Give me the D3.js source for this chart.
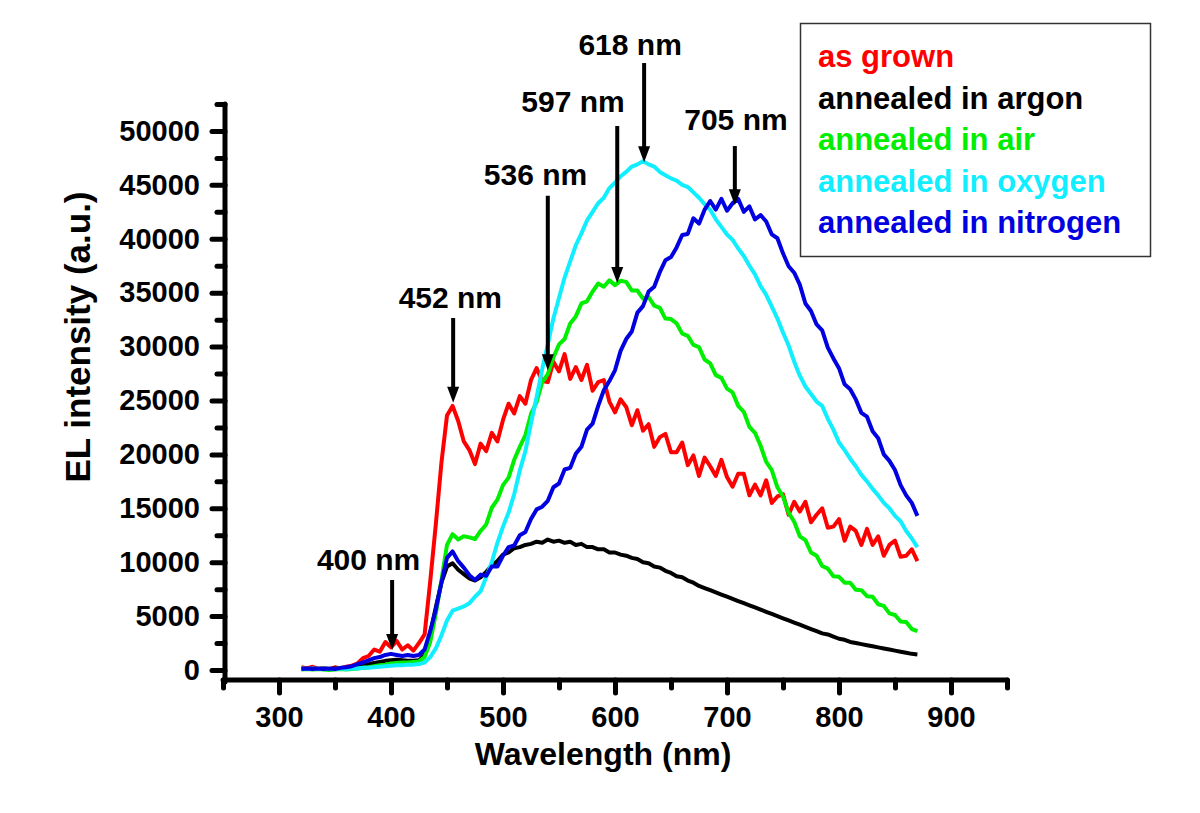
<!DOCTYPE html>
<html>
<head>
<meta charset="utf-8">
<script src="https://cdn.jsdelivr.net/npm/d3@7"></script>
<style>
  body { margin: 0; background: #fff; }
  text { font-family: "Liberation Sans", Arial, sans-serif; font-weight: bold; }
</style>
</head>
<body>
<div id="chart"></div>
<script>
// sampling grid of the spectra (nm)
var wavelength = d3.range(320, 875, 5);

var seriesNames = ['as grown', 'annealed in argon', 'annealed in air', 'annealed in oxygen', 'annealed in nitrogen'];
var colors = ['#ff0000', '#000000', '#00ee00', '#11eeff', '#0000e0'];

var asGrown = [
    250, 150, 300, 100, 200, 50, 250, 150, 300, 400,
    600, 1100, 1300, 1900, 1700, 2600, 2100, 2700, 1900, 2300,
    1800, 2500, 3300, 8200, 13500, 19200, 23600, 24500, 23100, 21200,
    20400, 19100, 21000, 20300, 22000, 21200, 23200, 24700, 23800, 25400,
    24700, 26900, 28000, 26800, 26700, 28600, 27700, 29300, 27000, 28100,
    26900, 28300, 25900, 26700, 26900, 24900, 23900, 25100, 24400, 22700,
    24100, 22200, 22800, 20700, 21600, 21900, 20200, 20200, 21100, 19000,
    19900, 18000, 19700, 18900, 18000, 19500, 17900, 17000, 18200, 18200,
    16200, 17200, 16200, 17600, 15500, 16100, 16300, 14400, 15600, 14700,
    15600, 13700, 14400, 15000, 13200, 13300, 14000, 12000, 13300, 12900,
    11600, 13100, 11600, 12400, 10600, 11600, 12000, 10500, 10600, 11200,
    10100
];
var argon = [
    150, 100, 150, 100, 150, 100, 150, 100, 200, 250,
    350, 450, 550, 650, 750, 850, 900, 950, 900, 850,
    850, 900, 1400, 3400, 5800, 8100, 9600, 9900, 9300, 8900,
    8500, 8300, 8600, 9100, 9700, 10100, 10700, 10900, 11300, 11400,
    11600, 11700, 11900, 11800, 12100, 11900, 12000, 11800, 11900, 11600,
    11700, 11400, 11400, 11200, 11200, 10900, 10900, 10700, 10600, 10400,
    10300, 10000, 9900, 9600, 9500, 9200, 9000, 8700, 8600, 8300,
    8100, 7800, 7600, 7400, 7200, 7000, 6800, 6600, 6400, 6200,
    6000, 5800, 5600, 5400, 5200, 5000, 4800, 4600, 4400, 4200,
    4000, 3800, 3600, 3400, 3300, 3100, 2900, 2800, 2600, 2500,
    2400, 2300, 2200, 2100, 2000, 1900, 1800, 1700, 1600, 1500,
    1450
];
var air = [
    50, 100, 50, 100, 50, 0, 50, 100, 50, 100,
    150, 200, 250, 350, 450, 500, 600, 650, 700, 700,
    750, 800, 1200, 2600, 5200, 8300, 11600, 12600, 12100, 12400,
    12300, 12150, 12900, 13500, 15050, 15800, 17150, 17850, 19500, 20700,
    21800, 23750, 24850, 26700, 27450, 29000, 30200, 30700, 32150, 32800,
    34000, 34200, 35100, 35850, 35550, 36150, 35700, 36100, 36000, 35200,
    35200, 34450, 34600, 33800, 33600, 32600, 32550, 32150, 31200, 31000,
    30150, 29950, 28800, 28450, 27350, 27100, 26100, 25750, 24500, 23950,
    22550, 22000, 20800, 19300, 18550, 16950, 16100, 14600, 13750, 12400,
    12050, 10900, 10600, 9650, 9400, 8700, 8650, 8100, 8100, 7450,
    7400, 6850, 6800, 6100, 5950, 5250, 5100, 4500, 4450, 3800,
    3600
];
var oxygen = [
    150, 100, 150, 100, 150, 100, 100, 150, 100, 150,
    150, 200, 200, 250, 300, 350, 400, 450, 450, 500,
    500, 550, 700, 1200, 2000, 3200, 4600, 5500, 5700, 5900,
    6200, 6800, 7300, 8600, 10000, 11800, 13300, 14600, 16300, 18500,
    20300, 22900, 25300, 27900, 30200, 32600, 34500, 36400, 37900, 39400,
    40500, 41700, 42500, 43300, 43800, 44700, 45200, 45800, 46200, 46700,
    46900, 47200, 46900, 46700, 46200, 45900, 45600, 45400, 45000, 44800,
    44300, 43800, 43200, 42700, 41800, 41100, 40400, 39900, 39100, 38400,
    37500, 36700, 35600, 34800, 33700, 32600, 31300, 30100, 28600, 27300,
    26300, 25600, 24900, 24500, 23300, 22300, 21100, 20400, 19600, 18900,
    18100, 17500, 16800, 16200, 15500, 15000, 14300, 13800, 12900, 12200,
    11400
];
var nitrogen = [
    100, 150, 100, 150, 100, 150, 100, 200, 250, 350,
    550, 700, 900, 1100, 1200, 1400, 1500, 1400, 1300, 1400,
    1300, 1400, 1900, 3600, 5600, 8100, 10400, 11000, 10100, 9500,
    8800, 8350, 8850, 8750, 9600, 9600, 10600, 11400, 11550, 12500,
    12800, 14000, 14900, 15150, 15700, 16950, 17300, 18600, 18750, 20050,
    20700, 22300, 22850, 24500, 25950, 26800, 27800, 29600, 30700, 31400,
    33150, 33750, 35100, 35550, 36900, 38000, 38300, 39200, 40350, 40450,
    41900, 41400, 42700, 43500, 42700, 43700, 42600, 43300, 43700, 42500,
    43000, 41800, 42200, 41600, 40400, 40050, 38650, 37450, 36850, 35750,
    34000, 33300, 32050, 31500, 29900, 28900, 28000, 26500, 26050, 25100,
    23850, 23500, 22150, 21500, 20000, 19400, 18550, 17150, 16200, 15500,
    14300
];

var xTicks = [300, 400, 500, 600, 700, 800, 900];
var yTicks = [0, 5000, 10000, 15000, 20000, 25000, 30000, 35000, 40000, 45000, 50000];

// peak annotations: arrow x (nm), tail/tip (a.u.), label anchor
var peakLabels = ['400 nm', '452 nm', '536 nm', '597 nm', '618 nm', '705 nm'];
var arrowNm = [401, 455.5, 540, 602, 626, 707];
var arrowTail = [8350, 32650, 44000, 50450, 56300, 48600];
var arrowTip = [1850, 24800, 27800, 35900, 47100, 43100];
var labelNm = [380, 453, 529, 562.5, 613.5, 708];
var labelVal = [9300, 33600, 45000, 51750, 57050, 50100];

var allSeries = [asGrown, argon, air, oxygen, nitrogen];

var svg = d3.select('#chart').append('svg')
    .attr('width', 1200)
    .attr('height', 813);

var x = d3.scaleLinear().domain([250, 950]).range([223, 1007]);
var y = d3.scaleLinear().domain([-1000, 52500]).range([680.8, 104]);

// minor ticks first (shorter), then major ticks with labels
var xMinor = d3.range(250, 951, 100);
var yMinor = d3.range(2500, 52501, 5000);

svg.append('g')
    .attr('transform', 'translate(0,680)')
    .call(d3.axisBottom(x).tickValues(xMinor).tickSize(8).tickSizeOuter(0).tickFormat(''))
    .call(function(g) { g.select('.domain').remove(); });

svg.append('g')
    .attr('transform', 'translate(225,0)')
    .call(d3.axisLeft(y).tickValues(yMinor).tickSize(8).tickSizeOuter(0).tickFormat(''))
    .call(function(g) { g.select('.domain').remove(); });

var xAxis = svg.append('g')
    .attr('class', 'axis')
    .attr('transform', 'translate(0,680)')
    .call(d3.axisBottom(x).tickValues(xTicks).tickSize(13).tickSizeOuter(0).tickPadding(13));

var yAxis = svg.append('g')
    .attr('class', 'axis')
    .attr('transform', 'translate(225,0)')
    .call(d3.axisLeft(y).tickValues(yTicks).tickSize(13).tickSizeOuter(0).tickPadding(12).tickFormat(d3.format('d')));

svg.selectAll('.tick line')
    .attr('stroke', '#000')
    .attr('stroke-width', 5)
    .attr('stroke-linecap', 'round');

svg.selectAll('.domain')
    .attr('stroke', '#000')
    .attr('stroke-width', 5)
    .attr('stroke-linecap', 'round');

svg.selectAll('.axis text')
    .attr('font-size', 29)
    .attr('fill', '#000');

// stretch the y axis line down to the x axis
yAxis.select('.domain').attr('d', 'M0,' + y(52500) + 'V' + 682);
xAxis.select('.domain').attr('d', 'M' + x(250) + ',0H' + x(950));

// axis titles
svg.append('text')
    .attr('x', 603)
    .attr('y', 765)
    .attr('text-anchor', 'middle')
    .attr('font-size', 32)
    .text('Wavelength (nm)');

svg.append('text')
    .attr('transform', 'translate(90,337) rotate(-90)')
    .attr('text-anchor', 'middle')
    .attr('font-size', 35)
    .text('EL intensity (a.u.)');

// spectra
var line = d3.line()
    .x(function(d, i) { return x(wavelength[i]); })
    .y(function(d) { return y(d); });

svg.append('g').selectAll('path')
    .data(allSeries)
    .enter()
    .append('path')
    .attr('d', line)
    .attr('fill', 'none')
    .attr('stroke', function(d, i) { return colors[i]; })
    .attr('stroke-width', 4)
    .attr('stroke-linejoin', 'round');

// peak arrows
var ann = svg.append('g');
peakLabels.forEach(function(lab, i) {
    var ax = x(arrowNm[i]);
    var tipY = y(arrowTip[i]);
    ann.append('line')
        .attr('x1', ax)
        .attr('x2', ax)
        .attr('y1', y(arrowTail[i]))
        .attr('y2', tipY - 12)
        .attr('stroke', '#000')
        .attr('stroke-width', 4);
    ann.append('path')
        .attr('d', 'M' + ax + ',' + tipY + 'L' + (ax - 6) + ',' + (tipY - 16) + 'L' + (ax + 6) + ',' + (tipY - 16) + 'Z')
        .attr('fill', '#000');
    ann.append('text')
        .attr('x', x(labelNm[i]))
        .attr('y', y(labelVal[i]))
        .attr('text-anchor', 'middle')
        .attr('font-size', 30)
        .text(lab);
});

// legend
var legend = svg.append('g');
legend.append('rect')
    .attr('x', 800.5)
    .attr('y', 23.5)
    .attr('width', 350)
    .attr('height', 233)
    .attr('fill', '#fff')
    .attr('stroke', '#333')
    .attr('stroke-width', 1.5);

legend.selectAll('text')
    .data(seriesNames)
    .enter()
    .append('text')
    .attr('x', 818)
    .attr('y', function(d, i) { return 67 + i * 41.5; })
    .attr('font-size', 31)
    .attr('fill', function(d, i) { return colors[i]; })
    .text(function(d) { return d; });
</script>
</body>
</html>
